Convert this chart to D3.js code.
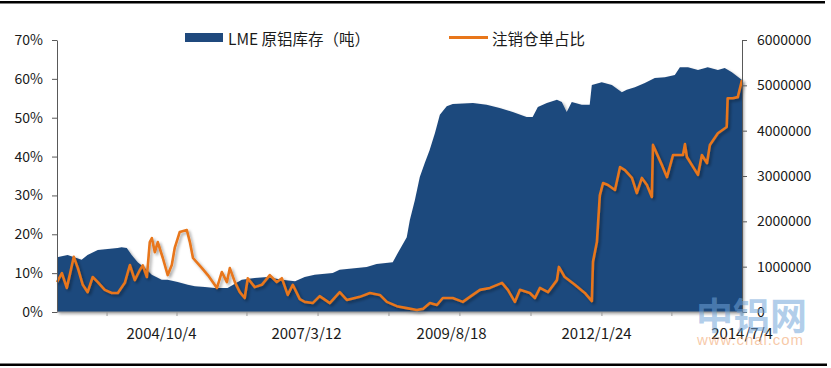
<!DOCTYPE html>
<html><head><meta charset="utf-8">
<script src="https://cdn.jsdelivr.net/npm/d3@7"></script>
<style>
html,body{margin:0;padding:0;background:#fff;}
svg{display:block;font-family:"Noto Sans CJK SC","Noto Sans",sans-serif;}
</style></head>
<body>
<svg id="chart" width="831" height="368"></svg>
<script>
// LME primary aluminium stocks (tonnes)
const stockDates = ["2003-01-02","2003-03-08","2003-06-02","2003-07-08","2003-09-09","2004-01-08","2004-02-02","2004-03-05","2004-04-04","2004-05-11","2004-06-24","2004-08-05","2004-10-05","2004-11-10","2005-01-11","2005-03-14","2005-04-27","2005-06-27","2005-08-26","2005-11-13","2006-02-08","2006-04-28","2006-07-16","2006-10-11","2007-01-01","2007-03-01","2007-05-01","2007-08-20","2007-10-01","2008-03-15","2008-05-15","2008-08-22","2008-09-22","2008-11-16","2008-12-05","2009-01-05","2009-02-04","2009-03-07","2009-04-05","2009-05-08","2009-06-07","2009-07-19","2009-08-25","2009-12-27","2010-03-21","2010-06-09","2010-08-28","2010-11-21","2010-12-28","2011-01-29","2011-03-25","2011-05-26","2011-06-25","2011-07-25","2011-08-25","2011-10-25","2011-12-13","2011-12-26","2012-02-25","2012-04-27","2012-06-27","2012-07-27","2012-09-15","2012-11-15","2013-01-15","2013-03-18","2013-05-18","2013-06-18","2013-08-07","2013-10-07","2013-12-06","2014-02-06","2014-03-20","2014-05-03","2014-07-04"];
const stockValues = [1210000,1260000,1150000,1260000,1370000,1410000,1430000,1410000,1260000,1100000,970000,820000,710000,710000,660000,600000,570000,550000,530000,530000,710000,750000,770000,710000,680000,770000,820000,860000,930000,990000,1060000,1100000,1300000,1650000,2030000,2470000,2980000,3290000,3570000,3950000,4350000,4540000,4590000,4610000,4570000,4500000,4410000,4300000,4300000,4520000,4610000,4680000,4630000,4410000,4630000,4570000,4570000,5010000,5070000,5010000,4850000,4900000,4960000,5050000,5160000,5180000,5230000,5400000,5400000,5340000,5400000,5340000,5380000,5290000,5120000];

// Cancelled warrants share (%)
const ratioDates = ["2003-01-02","2003-02-01","2003-03-03","2003-03-21","2003-04-15","2003-05-10","2003-06-09","2003-07-09","2003-08-09","2003-09-09","2003-10-22","2003-12-04","2004-01-10","2004-02-22","2004-03-24","2004-04-23","2004-05-24","2004-06-11","2004-07-06","2004-07-24","2004-08-06","2004-08-24","2004-09-11","2004-10-12","2004-11-11","2004-12-06","2004-12-24","2005-01-24","2005-03-08","2005-03-27","2005-04-15","2005-06-09","2005-07-15","2005-09-09","2005-10-09","2005-11-09","2005-11-27","2005-12-28","2006-01-27","2006-02-26","2006-03-17","2006-04-29","2006-06-11","2006-07-30","2006-09-11","2006-10-12","2006-11-17","2006-12-18","2007-01-30","2007-03-01","2007-04-19","2007-06-01","2007-08-02","2007-10-02","2007-11-14","2008-02-02","2008-04-04","2008-06-04","2008-07-17","2008-09-16","2008-11-16","2009-01-17","2009-02-23","2009-04-07","2009-05-20","2009-06-25","2009-08-25","2009-10-26","2009-12-08","2010-02-08","2010-04-10","2010-06-23","2010-07-29","2010-09-10","2010-10-11","2010-12-11","2011-01-11","2011-02-11","2011-04-01","2011-05-26","2011-06-07","2011-07-13","2011-09-13","2011-11-13","2011-12-26","2012-01-02","2012-01-26","2012-02-13","2012-03-04","2012-04-03","2012-05-16","2012-06-16","2012-07-16","2012-08-28","2012-09-27","2012-10-28","2012-11-28","2012-12-28","2013-01-04","2013-02-28","2013-03-31","2013-05-07","2013-07-07","2013-07-19","2013-07-31","2013-10-07","2013-10-31","2013-12-01","2013-12-19","2014-02-06","2014-04-01","2014-04-07","2014-05-08","2014-06-08","2014-07-04"];
const ratioValues = [7.7,10,6.2,9.5,14.2,11.3,7,5.1,9,7.7,5.7,4.9,4.9,7.5,12.1,8.2,10.8,12,9,18,19,15.4,18,13.9,9.5,12.1,16.5,20.6,21.1,18,13.9,11.3,9.5,6.2,10.3,7.7,11.3,7.7,5.1,3.6,8.7,6.4,7,9.5,7.7,8.7,4.4,7,3.3,2.6,2.3,4.1,2.3,5.1,3.1,3.9,4.9,4.4,2.6,1.5,1.0,0.5,0.8,2.3,1.8,3.6,3.6,2.6,3.9,5.7,6.2,7.5,5.7,2.6,5.7,4.9,3.6,6.2,5.1,8.2,11.6,9,7,4.9,2.8,12.9,18,30,33.2,32.7,31.4,37.3,36.5,34.5,30.6,34.5,32.7,29.6,43,37.8,34.7,40.4,40.4,43.2,39.9,35.3,40.4,38.3,43,46,47.6,55,55,55.3,59.7];

const leftTicks = [0,10,20,30,40,50,60,70];
const rightTicks = [0,1000000,2000000,3000000,4000000,5000000,6000000];
const xLabelDates = ["2004-10-04","2007-03-12","2009-08-18","2012-01-24","2014-07-04"];
const xLabelTexts = ["2004/10/4","2007/3/12","2009/8/18","2012/1/24","2014/7/4"];
const xTickDates = ["2003-11-05","2005-01-07","2006-03-12","2007-05-22","2008-07-30","2009-10-08","2010-12-18","2012-02-26","2013-04-30","2014-07-04"];
const legendLabels = ["LME 原铝库存（吨）","注销仓单占比"];
const watermarkMain = "中铝网";
const watermarkSub = "www.cnal.com";

const parse = d3.timeParse("%Y-%m-%d");
const stock = stockDates.map((d,i)=>({date:parse(d), v:stockValues[i]}));
const ratio = ratioDates.map((d,i)=>({date:parse(d), v:ratioValues[i]}));

const L=57, R=742, T=40, B=312;
const x = d3.scaleTime().domain([parse("2003-01-02"), parse("2014-07-04")]).range([L,R]);
const yL = d3.scaleLinear().domain([0,70]).range([B,T]);
const yR = d3.scaleLinear().domain([0,6000000]).range([B,T]);

const svg = d3.select("#chart");
const defs = svg.append("defs");
const f = defs.append("filter").attr("id","shadow").attr("x","-5%").attr("y","-5%").attr("width","115%").attr("height","115%");
f.append("feDropShadow").attr("dx",2).attr("dy",2).attr("stdDeviation",1.6).attr("flood-color","#000").attr("flood-opacity",0.35);

// frame lines
svg.append("rect").attr("x",0).attr("y",1).attr("width",825).attr("height",2.5).attr("fill","#000");
svg.append("rect").attr("x",0).attr("y",363.5).attr("width",827).attr("height",2.5).attr("fill","#000");

// area
svg.append("path").datum(stock)
  .attr("d", d3.area().x(d=>x(d.date)).y0(yR(0)).y1(d=>yR(d.v)))
  .attr("fill","#1F497D").attr("filter","url(#shadow)");

// line
svg.append("path").datum(ratio)
  .attr("d", d3.line().x(d=>x(d.date)).y(d=>yL(d.v)))
  .attr("fill","none").attr("stroke","#E8761A").attr("stroke-width",2.6)
  .attr("stroke-linejoin","round").attr("filter","url(#shadow)");

const axisColor = "#595959";
const txtColor = "#1a1a1a";

// left axis
const gl = svg.append("g").attr("transform",`translate(${L},0)`)
  .call(d3.axisLeft(yL).tickValues(leftTicks).tickFormat(d=>d+"%").tickSize(5).tickSizeOuter(0).tickPadding(9));
// right axis
const gr = svg.append("g").attr("transform",`translate(${R},0)`)
  .call(d3.axisRight(yR).tickValues(rightTicks).tickFormat(d3.format("d")).tickSize(5).tickSizeOuter(0).tickPadding(10));
[gl,gr].forEach(g=>{
  g.select(".domain").attr("stroke",axisColor);
  g.selectAll(".tick line").attr("stroke",axisColor);
  g.selectAll(".tick text").attr("fill",txtColor).style("font-size","14px").style("font-family","'Noto Sans CJK SC','Noto Sans',sans-serif");
});

// bottom axis
const gb = svg.append("g").attr("transform",`translate(0,${B})`);
gb.append("line").attr("x1",L).attr("x2",R).attr("stroke","#9a9a9a").attr("stroke-width",1);
gb.selectAll("line.tk").data(xTickDates.map(parse)).join("line").attr("class","tk")
  .attr("x1",d=>x(d)).attr("x2",d=>x(d)).attr("y1",0).attr("y2",4).attr("stroke","#9a9a9a");
gb.selectAll("text").data(xLabelDates.map(parse)).join("text")
  .attr("x",d=>x(d)).attr("y",27).attr("text-anchor","middle")
  .attr("fill",txtColor).style("font-size","15px").text((d,i)=>xLabelTexts[i]);

// legend
const lg = svg.append("g");
lg.append("rect").attr("x",185).attr("y",33).attr("width",38).attr("height",9).attr("fill","#1F497D");
lg.append("text").attr("x",228).attr("y",44.5).attr("fill",txtColor).style("font-size","15.5px").text(legendLabels[0]);
lg.append("line").attr("x1",449).attr("x2",488).attr("y1",37.5).attr("y2",37.5).attr("stroke","#E8761A").attr("stroke-width",3);
lg.append("text").attr("x",492).attr("y",44.5).attr("fill",txtColor).style("font-size","15.5px").text(legendLabels[1]);

// watermark
svg.append("text").attr("x",696).attr("y",330).attr("fill","#6fa3d8").attr("fill-opacity",0.55)
  .style("font-size","37px").style("font-weight","bold").text(watermarkMain);
svg.append("text").attr("x",697).attr("y",345).attr("fill","#f2a56e").attr("fill-opacity",0.6)
  .style("font-size","15px").style("font-family","'Liberation Sans',sans-serif").attr("textLength",106).text(watermarkSub);
</script>
</body></html>
